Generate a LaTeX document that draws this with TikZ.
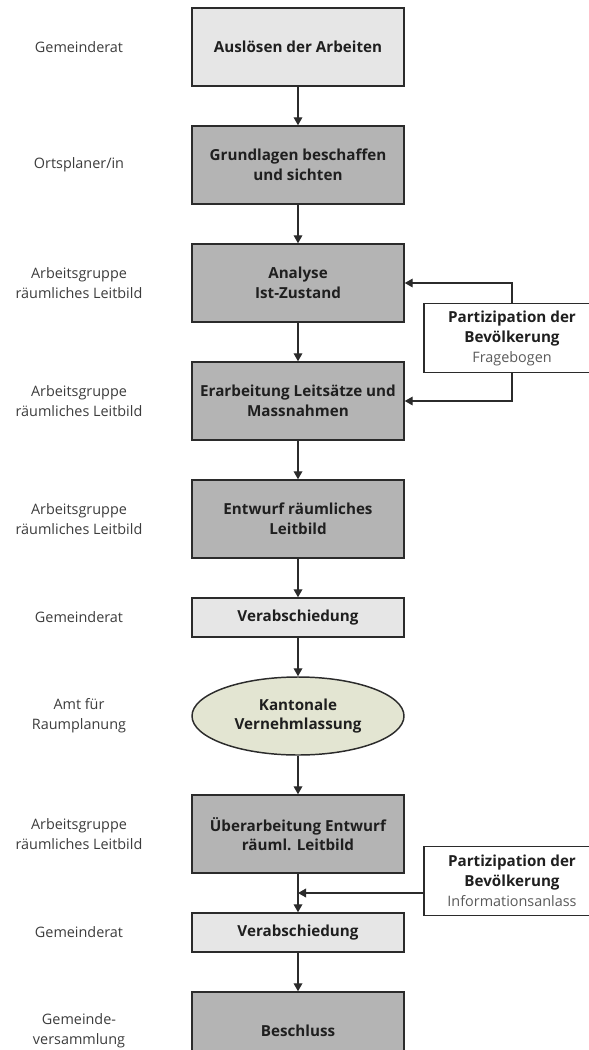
\documentclass[tikz,border=0pt]{standalone}
\usepackage{fontspec}
\setmainfont{Open Sans}
\usepackage{xcolor}
\usepackage{tikz}
\usetikzlibrary{positioning,calc,arrows.meta,shapes.geometric}
\definecolor{leitline}{HTML}{2B2B2B}
\definecolor{leitlight}{HTML}{E6E6E6}
\definecolor{leitdark}{HTML}{B4B4B4}
\definecolor{leitoval}{HTML}{E3E5D2}
\definecolor{leitlabel}{HTML}{3C3C3C}
\definecolor{leitsub}{HTML}{5A5A5A}
\newcommand{\partkopf}[1]{{\fontsize{11.4pt}{15pt}\selectfont\bfseries #1}}

\begin{document}
\begin{tikzpicture}[x=0.75pt,y=-0.75pt,
    node distance=28.9pt,
    box/.style={draw=leitline,line width=1.1pt,inner sep=2pt,align=center,
                font=\fontsize{11.4pt}{14.8pt}\selectfont\bfseries,text=black!88,
                minimum width=159pt,minimum height=58.5pt},
    flat/.style={box,minimum height=29.25pt,fill=leitlight},
    oval/.style={box,ellipse,inner sep=0pt,fill=leitoval},
    part/.style={draw=leitline,line width=1.1pt,fill=white,align=center,inner sep=2pt,
                 font=\fontsize{10.8pt}{15pt}\selectfont,text=black!88,
                 minimum width=132pt,minimum height=51.5pt},
    lbl/.style={align=center,text=leitlabel,font=\fontsize{10.8pt}{15pt}\selectfont},
    arr/.style={-{Triangle[length=6pt,width=6.5pt]},line width=1pt,leitline},
  ]
    \useasboundingbox (0,0) rectangle (589,1050);
    \clip (0,0) rectangle (589,1050);

    \node[box,fill=leitlight] (ausloesen) at (298,47) {Auslösen der Arbeiten};
    \node[box,below=of ausloesen,fill=leitdark] (grundlagen) {Grundlagen beschaffen\\und sichten};
    \node[box,below=of grundlagen,fill=leitdark] (analyse) {Analyse\\Ist-Zustand};
    \node[box,below=of analyse,fill=leitdark] (leitsaetze) {Erarbeitung Leitsätze und\\Massnahmen};
    \node[box,below=of leitsaetze,fill=leitdark] (entwurf) {Entwurf räumliches\\Leitbild};
    \node[flat,below=of entwurf] (verab) {Verabschiedung};
    \node[oval,below=of verab] (kanton) {Kantonale\\Vernehmlassung};
    \node[box,below=of kanton,fill=leitdark] (ueberarb) {Überarbeitung Entwurf\\räuml. Leitbild};
    \node[flat,below=of ueberarb] (verabzwei) {Verabschiedung};
    \node[box,below=of verabzwei,fill=leitdark] (beschluss) {Beschluss};

    \node[part] (fragebogen) at (512,338) {\partkopf{Partizipation der}\\\partkopf{Bevölkerung}\\\textcolor{leitsub}{Fragebogen}};
    \node[part] (infoanlass) at (512,881) {\partkopf{Partizipation der}\\\partkopf{Bevölkerung}\\\textcolor{leitsub}{Informationsanlass}};

    \coordinate (lblx) at (79,0);
    \node[lbl] (wer1) at (lblx |- ausloesen) {Gemeinderat};
    \node[lbl] (wer2) at (lblx |- grundlagen) {Ortsplaner/in};
    \node[lbl] (wer3) at (lblx |- analyse) {Arbeitsgruppe\\räumliches Leitbild};
    \node[lbl] (wer4) at (lblx |- leitsaetze) {Arbeitsgruppe\\räumliches Leitbild};
    \node[lbl] (wer5) at (lblx |- entwurf) {Arbeitsgruppe\\räumliches Leitbild};
    \node[lbl] (wer6) at (lblx |- verab) {Gemeinderat};
    \node[lbl] (wer7) at (lblx |- kanton) {Amt für\\Raumplanung};
    \node[lbl] (wer8) at (lblx |- ueberarb) {Arbeitsgruppe\\räumliches Leitbild};
    \node[lbl] (wer9) at (lblx |- verabzwei) {Gemeinderat};
    \node[lbl] (wer10) at (lblx |- beschluss) {Gemeinde-\\versammlung};

    \draw[arr] (ausloesen) -- (grundlagen);
    \draw[arr] (grundlagen) -- (analyse);
    \draw[arr] (analyse) -- (leitsaetze);
    \draw[arr] (leitsaetze) -- (entwurf);
    \draw[arr] (entwurf) -- (verab);
    \draw[arr] (verab) -- (kanton);
    \draw[arr] (kanton) -- (ueberarb);
    \draw[arr] (ueberarb) -- (verabzwei);
    \draw[arr] (verabzwei) -- (beschluss);

    \draw[arr] (fragebogen.north) |- (analyse.east);
    \draw[arr] (fragebogen.south) |- (leitsaetze.east);
    \coordinate (einmuendung) at ($(ueberarb.south)!0.5!(verabzwei.north)$);
    \draw[arr] (infoanlass.west) -- (einmuendung -| infoanlass.west) -- (einmuendung);
  \end{tikzpicture}
\end{document}
